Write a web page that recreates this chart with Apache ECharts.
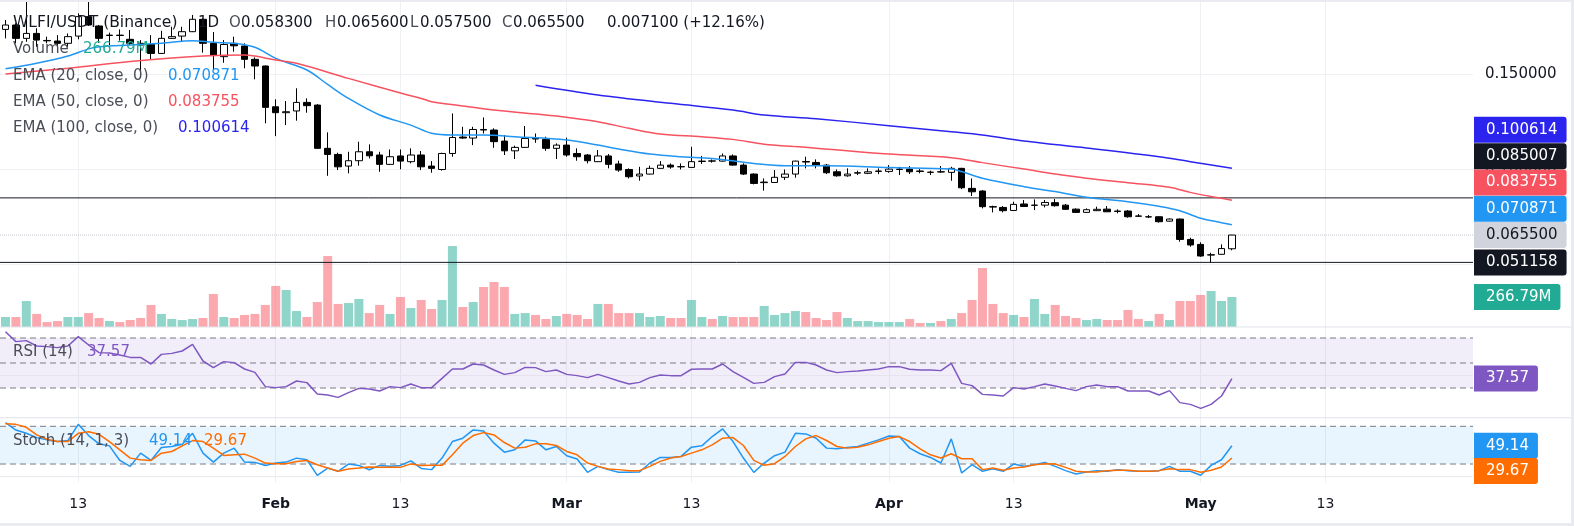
<!DOCTYPE html>
<html><head><meta charset="utf-8">
<script src="https://cdn.jsdelivr.net/npm/echarts@6/dist/echarts.min.js"></script>
<style>html,body{margin:0;padding:0;background:#fff}#c{width:1574px;height:526px}</style>
</head><body><div id="c"></div>
<script>
// ---------------- DATA (day index 0 = Jan 6) ----------------
const opens = [0.1734,0.1757,0.1687,0.1713,0.1676,0.1673,0.1661,0.1699,0.1801,0.1752,
0.1702,0.1704,0.1682,0.1661,0.1655,0.1608,0.1687,0.1699,0.1722,0.1787,
0.1661,0.1591,0.1661,0.1647,0.1577,0.1542,0.1328,0.1297,0.1306,0.1351,
0.1337,0.1110,0.1078,0.1017,0.1045,0.1092,0.1075,0.1026,0.1070,0.1040,
0.1075,0.1017,0.0999,0.1083,0.1169,0.1164,0.1209,0.1206,0.1148,0.1097,
0.1115,0.1164,0.1157,0.1110,0.1127,0.1083,0.1075,0.1040,0.1070,0.1028,
0.0999,0.0965,0.0975,0.1005,0.1022,0.1014,0.1010,0.1041,0.1044,0.1043,
0.1070,0.1022,0.0975,0.0930,0.0931,0.0958,0.0975,0.1041,0.1036,0.1022,
0.0987,0.0966,0.0980,0.0979,0.0989,0.0989,0.0999,0.1001,0.0991,0.0984,
0.0987,0.0984,0.1005,0.0900,0.0886,0.0804,0.0800,0.0784,0.0818,0.0811,
0.0812,0.0825,0.0812,0.0791,0.0774,0.0783,0.0791,0.0781,0.0781,0.0755,
0.0750,0.0751,0.0728,0.0739,0.0632,0.0606,0.0550,0.0554,0.0583];
const highs = [0.1783,0.1766,0.1895,0.1740,0.1696,0.1704,0.1713,0.1818,0.1900,0.1757,
0.1717,0.1734,0.1731,0.1678,0.1704,0.1727,0.1748,0.1748,0.1810,0.1792,
0.1720,0.1678,0.1696,0.1661,0.1587,0.1545,0.1367,0.1358,0.1425,0.1372,
0.1342,0.1194,0.1087,0.1092,0.1145,0.1131,0.1092,0.1104,0.1104,0.1110,
0.1096,0.1043,0.1087,0.1293,0.1223,0.1223,0.1272,0.1215,0.1180,0.1124,
0.1227,0.1188,0.1171,0.1136,0.1166,0.1110,0.1080,0.1101,0.1080,0.1045,
0.1005,0.1013,0.1019,0.1043,0.1031,0.1031,0.1118,0.1070,0.1052,0.1083,
0.1078,0.1031,0.0979,0.0952,0.0996,0.0999,0.1045,0.1066,0.1052,0.1028,
0.0999,0.1005,0.0993,0.1005,0.1005,0.1022,0.1013,0.1017,0.1001,0.0993,
0.1017,0.1013,0.1008,0.0952,0.0891,0.0809,0.0807,0.0830,0.0839,0.0842,
0.0839,0.0844,0.0818,0.0795,0.0795,0.0804,0.0807,0.0790,0.0786,0.0765,
0.0760,0.0755,0.0742,0.0742,0.0641,0.0617,0.0562,0.0606,0.0656];
const lows = [0.1687,0.1661,0.1669,0.1643,0.1661,0.1643,0.1643,0.1682,0.1752,0.1664,
0.1652,0.1675,0.1652,0.1512,0.1577,0.1606,0.1685,0.1669,0.1720,0.1612,
0.1521,0.1559,0.1617,0.1530,0.1472,0.1241,0.1174,0.1232,0.1255,0.1297,
0.1108,0.0966,0.0996,0.0979,0.1019,0.1057,0.0987,0.1024,0.1000,0.1031,
0.0996,0.0982,0.0993,0.1066,0.1160,0.1127,0.1188,0.1113,0.1075,0.1054,
0.1113,0.1139,0.1097,0.1054,0.1066,0.1045,0.1031,0.1038,0.1005,0.0987,
0.0952,0.0940,0.0973,0.1003,0.1003,0.0999,0.1008,0.1028,0.1035,0.1040,
0.1019,0.0970,0.0921,0.0888,0.0930,0.0944,0.0956,0.1005,0.1005,0.0975,
0.0961,0.0961,0.0970,0.0975,0.0975,0.0982,0.0970,0.0975,0.0979,0.0970,
0.0982,0.0940,0.0896,0.0860,0.0795,0.0774,0.0774,0.0783,0.0802,0.0786,
0.0800,0.0804,0.0788,0.0772,0.0772,0.0781,0.0776,0.0769,0.0746,0.0751,
0.0744,0.0720,0.0725,0.0620,0.0594,0.0541,0.0512,0.0552,0.0575];
const closes = [0.1757,0.1687,0.1713,0.1678,0.1674,0.1661,0.1696,0.1801,0.1757,0.1687,
0.1704,0.1702,0.1661,0.1652,0.1608,0.1687,0.1696,0.1722,0.1787,0.1661,
0.1599,0.1655,0.1648,0.1577,0.1542,0.1325,0.1297,0.1302,0.1351,0.1334,
0.1110,0.1078,0.1013,0.1045,0.1092,0.1071,0.1026,0.1066,0.1043,0.1075,
0.1013,0.1005,0.1083,0.1167,0.1164,0.1209,0.1206,0.1145,0.1097,0.1115,
0.1162,0.1159,0.1110,0.1127,0.1075,0.1066,0.1045,0.1070,0.1026,0.0996,
0.0961,0.0975,0.1005,0.1022,0.1012,0.1013,0.1040,0.1043,0.1043,0.1070,
0.1022,0.0975,0.0926,0.0933,0.0958,0.0975,0.1043,0.1038,0.1022,0.0982,
0.0966,0.0975,0.0982,0.0987,0.0991,0.1001,0.1001,0.0987,0.0989,0.0985,
0.0986,0.1005,0.0903,0.0882,0.0804,0.0802,0.0783,0.0816,0.0805,0.0812,
0.0826,0.0809,0.0790,0.0774,0.0788,0.0790,0.0777,0.0779,0.0751,0.0754,
0.0751,0.0725,0.0739,0.0632,0.0603,0.0545,0.0552,0.0584,0.0655];
const volumes = [89,89,231,116,44,53,89,89,124,80,
53,44,62,80,196,116,71,62,71,80,
293,89,80,107,116,196,365,329,142,89,
222,631,205,213,249,124,196,116,267,169,
240,160,240,720,178,222,356,400,356,116,
124,107,71,98,116,107,71,205,205,124,
124,124,89,98,80,80,240,89,71,98,
89,89,89,187,107,124,142,133,80,62,
133,80,53,53,44,44,44,71,36,36,
53,71,124,240,525,205,124,107,89,249,
116,196,98,80,62,71,62,62,151,71,
53,116,62,231,231,285,320,231,266.79];
// EMA readings: [dayIndex, value]
const ema20 = [[0,0.1527],[3,0.1556],[6,0.1594],[8,0.1632],[9,0.1643],[12,0.1652],[15,0.1661],[18,0.1675],[20,0.1666],[22,0.1661],[24,0.1640],[26,0.1582],[29,0.1521],[31,0.1445],[33,0.1372],[36,0.1285],[39,0.1232],[41,0.1189],[43,0.1180],[46,0.1180],[49,0.1171],[54,0.1154],[57,0.1127],[59,0.1106],[62,0.1080],[65,0.1066],[68,0.1057],[72,0.1031],[75,0.1019],[79,0.1019],[85,0.1009],[91,0.1001],[92,0.0988],[94,0.0953],[98,0.0909],[101,0.0883],[104,0.0853],[108,0.0830],[111,0.0806],[113,0.0783],[115,0.0743],[117,0.0720],[118,0.0709]];
const ema50 = [[0,0.1500],[6,0.1530],[12,0.1565],[19,0.1594],[23,0.1600],[24,0.1594],[26,0.1573],[28,0.1556],[33,0.1477],[38,0.1400],[40,0.1372],[41,0.1355],[44,0.1332],[47,0.1311],[51,0.1290],[54,0.1273],[57,0.1250],[60,0.1215],[63,0.1185],[67,0.1171],[70,0.1157],[73,0.1131],[76,0.1119],[78,0.1111],[85,0.1080],[91,0.1061],[94,0.1035],[98,0.1001],[101,0.0975],[104,0.0953],[108,0.0930],[112,0.0906],[114,0.0879],[116,0.0857],[118,0.0838]];
const ema100 = [[51,0.1441],[57,0.1390],[64,0.1346],[70,0.1311],[73,0.1285],[78,0.1265],[85,0.1229],[91,0.1197],[94,0.1180],[98,0.1149],[104,0.1112],[111,0.1066],[114,0.1040],[118,0.1006]];
const rsi = [75,67.1,67.9,63.6,63.1,62.3,63.6,71.1,64.4,58.3,
58,56.4,54.5,54.5,49.2,56.9,57.7,59.6,64.9,51.6,
46.3,51.1,50.3,45.2,42.5,31.1,30.3,31.1,35.6,34.3,
25.2,24.4,22.5,26.3,29.7,29.2,27.6,31.1,30.3,33.2,
30.3,30.3,37.7,45.2,45.2,49.2,48.4,44.4,40.9,42.3,
46.5,46.3,43.1,44.4,40.9,39.9,38.3,40.9,38.3,35.6,
33.2,34.5,38.3,40.4,39.9,39.9,45,45.2,45.2,49.2,
43.1,38.5,33.7,34.5,39.1,41.2,50.5,50.5,48.4,44.4,
42.3,43.1,43.6,44.4,45.2,47.1,47.1,45,44.4,44.4,
43.9,49.7,33.7,31.9,24.9,24.4,23.6,30.3,29.2,31.1,
33.2,31.6,29.7,27.9,31.1,32.4,31.1,31.1,27.6,27.6,
27.6,24.4,27.9,18.3,16.9,13.7,16.9,23.6,37.57];
const stochK = [86,74.1,68.9,62,58.4,55.7,57.3,83.1,65.2,52.1,
48.9,25.7,16.3,37.3,25.7,46.3,47.8,51.5,68.9,37.3,
23.1,37.3,45.2,23.1,22.6,17.8,21.5,23.1,29.4,26.8,
2.0,13.6,8.4,19.9,17.8,11,17.8,16.3,17.8,25,
13,11.1,29.5,55.8,61.1,74.2,72.6,53.2,38.9,42.6,
58.4,56.8,42.6,47.9,33.2,27.9,6.8,16.3,11.1,6.8,
6.8,7.4,21.6,30.5,30.5,32.1,46.8,48.9,63.7,75.8,
55.8,29.5,6.8,21.6,33.2,38.9,68.9,67.9,61.1,45.3,
44.2,46.3,47.9,53.2,58.4,64.7,63.7,45.3,36.3,30.5,
21.6,60,5.8,18.9,8.4,12.6,8.4,20,16.3,18.9,
22.6,16.3,9.5,4.2,7.4,9.5,8.4,11.1,9.5,8.4,
8.4,9.5,16.3,8.4,8.4,2.1,17.9,26.8,49.14];
const stochD = [84.2,83.1,78.4,66.3,59.4,55.7,55.7,68.9,71.5,67.3,
55.7,42.6,29.4,26.8,25.7,37.3,39.9,48.9,57.3,55.7,
45.2,33.6,34.7,35.7,29.4,21.5,20.5,20.5,24.1,25.7,
18.9,13.6,8.4,12.1,13.6,15.2,14.7,14.7,14.7,20.2,
17.6,17.9,17.9,34.7,53.2,65.3,70,66.3,54.2,45.3,
46.8,52.1,52.1,49.5,40,34.7,21.6,16.3,12.1,11.1,
9.5,9.5,16.3,24.2,29.5,32.1,37.4,42.6,50.5,61.1,
62.1,49.5,25.8,17.9,20.5,32.1,47.9,60,65.3,57.4,
47.9,45.3,46.8,50.5,55.8,61.1,63.7,55.8,44.2,34.7,
29.5,36.3,28.4,28.4,11.1,13.7,10,13.7,15.3,18.9,
20.5,20,14.7,8.4,7.4,7.4,9.5,10,10,8.4,
8.4,9.5,12.6,11.1,11.1,6.8,10,15.3,29.67];
const tickDays = [7, 26, 38, 54, 66, 85, 97, 115, 127];
const tickLabels = ['13','Feb','13','Mar','13','Apr','13','May','13'];
const hLines = [0.085007, 0.051158];
const readout = {open:'0.058300', high:'0.065600', low:'0.057500', close:'0.065500', change:'0.007100 (+12.16%)',
  vol:'266.79M', ema20:'0.070871', ema50:'0.083755', ema100:'0.100614', rsi:'37.57', k:'49.14', d:'29.67'};
const lastVals = {close:0.0655, ema20:0.070871, ema50:0.083755, ema100:0.100614, vol:266.79, rsi:37.57, k:49.14, d:29.67};

// ---------------- STYLE / LAYOUT ----------------
const FONT = '"DejaVu Sans", sans-serif';
const PLOT_W = 1473;
const XMIN = -0.53, XMAX = 141.2;
const C20 = '#2196f3', C50 = '#f7525f', C100 = '#2b24ee', CRSI = '#7e57c2', CK = '#2196f3', CD = '#ff6d00';
const GRIDC = '#eef0f4';
const DASH = {color:'#787b86', width:1, type:[6,4]};
const nice = v => Math.abs(v/0.05 - Math.round(v/0.05)) < 1e-6;

const chart = echarts.init(document.getElementById('c'), null, {renderer:'canvas'});

const candleData = opens.map((o,i)=>[i, o, closes[i], lows[i], highs[i]]);
const volData = volumes.map((v,i)=>({value:[i,v], itemStyle:{color: closes[i]>=opens[i] ? 'rgba(34,171,148,0.5)' : 'rgba(247,82,95,0.5)'}}));
const idx = arr => arr.map((v,i)=>[i,v]);
const level = v => [[XMIN, v], [XMAX, v]];

const xAxes = [0,1,2,3].map(k => ({
  type:'value', gridIndex:k, min:XMIN, max:XMAX,
  axisLine:{show:false},
  axisTick:{show:false, customValues:tickDays},
  splitLine:{show:k!==1, lineStyle:{color:GRIDC, width:1}},
  axisLabel: k===3 ? {
    show:true, customValues:tickDays, margin:15,
    formatter: v => { const t = tickLabels[tickDays.indexOf(Math.round(v))] || ''; return /^\d+$/.test(t) ? '{n|'+t+'}' : '{b|'+t+'}'; },
    rich:{n:{fontSize:14, color:'#131722', fontFamily:FONT}, b:{fontSize:14, fontWeight:'bold', color:'#131722', fontFamily:FONT}}
  } : {show:false}
}));

const noLbl = {show:false};
const hline = (ax, v, style, z) => ({type:'line', xAxisIndex:ax, yAxisIndex:ax, data:level(v), showSymbol:false, silent:true, lineStyle:style, z:z||2});
const option = {
  animation:false,
  backgroundColor:'#ffffff',
  textStyle:{fontFamily:FONT},
  grid:[
    {left:0, top:0, width:PLOT_W, height:327, outerBoundsMode:'none'},
    {left:0, top:227, width:PLOT_W, height:100, outerBoundsMode:'none'},
    {left:0, top:327, width:PLOT_W, height:90.7, outerBoundsMode:'none'},
    {left:0, top:417.7, width:PLOT_W, height:65, outerBoundsMode:'none'}
  ],
  xAxis:xAxes,
  yAxis:[
    {type:'value', gridIndex:0, position:'right', min:0.01726, max:0.18883, splitNumber:3,
      axisLine:{show:false}, axisTick:{show:false},
      splitLine:{show:true, showMinLine:false, showMaxLine:false, lineStyle:{color:GRIDC}},
      axisLabel:{margin:12, fontSize:15, color:'#131722', fontFamily:FONT, formatter:v => nice(v) ? v.toFixed(6) : ''}},
    {type:'value', gridIndex:1, min:0, max:889.3, show:false},
    {type:'value', gridIndex:2, min:6.24, max:78.8, show:false},
    {type:'value', gridIndex:3, min:-9.7, max:93.7, show:false}
  ],
  series:[
    {type:'bar', name:'Volume', xAxisIndex:1, yAxisIndex:1, barWidth:9, data:volData, z:1},
    hline(0, hLines[0], {color:'#131722', width:1}, 2),
    hline(0, hLines[1], {color:'#131722', width:1}, 2),
    hline(0, lastVals.close, {color:'#c3c6ce', width:1, type:'dotted'}, 2),
    {type:'candlestick', name:'WLFI', xAxisIndex:0, yAxisIndex:0, barWidth:7, encode:{x:0, y:[1,2,3,4]},
      data:candleData, z:3,
      itemStyle:{color:'#ffffff', color0:'#000000', borderColor:'#000000', borderColor0:'#000000', borderWidth:1}},
    {type:'line', name:'EMA20', xAxisIndex:0, yAxisIndex:0, data:ema20, showSymbol:false, smooth:0.35, lineStyle:{color:C20, width:1.5}, z:4},
    {type:'line', name:'EMA50', xAxisIndex:0, yAxisIndex:0, data:ema50, showSymbol:false, smooth:0.35, lineStyle:{color:C50, width:1.5}, z:4},
    {type:'line', name:'EMA100', xAxisIndex:0, yAxisIndex:0, data:ema100, showSymbol:false, smooth:0.35, lineStyle:{color:C100, width:1.5}, z:4},
    hline(2, 70, DASH, 3), hline(2, 50, DASH, 3), hline(2, 30, DASH, 3),
    hline(2, 40, {color:'#e6e3ef', width:1}, 2),
    {type:'line', name:'RSI', xAxisIndex:2, yAxisIndex:2, data:idx(rsi), showSymbol:false, lineStyle:{color:CRSI, width:1.5}, z:4,
      markArea:{silent:true, itemStyle:{color:'rgba(126,87,194,0.1)'}, data:[[{yAxis:30},{yAxis:70}]]}},
    hline(3, 80, DASH, 3), hline(3, 20, DASH, 3),
    hline(3, 0, {color:'#e6e8ee', width:1}, 2),
    {type:'line', name:'%K', xAxisIndex:3, yAxisIndex:3, data:idx(stochK), showSymbol:false, lineStyle:{color:CK, width:1.5}, z:4,
      markArea:{silent:true, itemStyle:{color:'rgba(33,150,243,0.1)'}, data:[[{yAxis:20},{yAxis:80}]]}},
    {type:'line', name:'%D', xAxisIndex:3, yAxisIndex:3, data:idx(stochD), showSymbol:false, lineStyle:{color:CD, width:1.5}, z:5}
  ]
};
chart.setOption(option);

// ---------------- OVERLAYS (legend text, value tags, separators) ----------------
const G = [];
function txt(x, y, text, color, opt) {
  opt = opt || {};
  G.push({type:'text', z:100, x:x, y:y, silent:true,
    style:{text:text, fill:color, font:(opt.bold?'bold ':'')+(opt.size||15)+'px '+FONT, align:'left', verticalAlign:'middle'}});
}
const TXT = '#131722', LBL = '#4a4d57';
txt(13, 23, 'WLFI/USDT (Binance)', TXT, {size:15.5}); txt(198, 23, '1D', TXT);
txt(229, 23, 'O', LBL); txt(241, 23, readout.open, TXT);
txt(325, 23, 'H', LBL); txt(337, 23, readout.high, TXT);
txt(410, 23, 'L', LBL); txt(420, 23, readout.low, TXT);
txt(502, 23, 'C', LBL); txt(513, 23, readout.close, TXT);
txt(607, 23, readout.change, TXT);
txt(13, 49, 'Volume', LBL); txt(83, 49, readout.vol, '#22ab94');
txt(13, 76, 'EMA (20, close, 0)', LBL); txt(168, 76, readout.ema20, C20);
txt(13, 102, 'EMA (50, close, 0)', LBL); txt(168, 102, readout.ema50, C50);
txt(13, 128, 'EMA (100, close, 0)', LBL); txt(178, 128, readout.ema100, C100);
txt(13, 352, 'RSI (14)', LBL); txt(87, 352, readout.rsi, CRSI);
txt(13, 441, 'Stoch (14, 1, 3)', LBL); txt(149, 441, readout.k, CK); txt(204, 441, readout.d, CD);

const TAG_H = 26.3;
function tag(y, text, bg, fg) {
  G.push({type:'text', z:110, x:1474, y:y, silent:true,
    style:{text:text, fill:fg, font:'15px '+FONT, align:'left', verticalAlign:'middle',
      backgroundColor:bg, padding:[0,9,0,12], lineHeight:26, borderRadius:[0,3,3,0]}});
}
const py = (axis, v) => chart.convertToPixel({yAxisIndex:axis}, v);
const ptags = [
  {v:lastVals.ema100, t:readout.ema100, bg:C100, fg:'#fff'},
  {v:hLines[0], t:hLines[0].toFixed(6), bg:'#131722', fg:'#fff'},
  {v:lastVals.ema50, t:readout.ema50, bg:C50, fg:'#fff'},
  {v:lastVals.ema20, t:readout.ema20, bg:C20, fg:'#fff'},
  {v:lastVals.close, t:readout.close, bg:'#d1d4dc', fg:'#131722'},
  {v:hLines[1], t:hLines[1].toFixed(6), bg:'#131722', fg:'#fff'}
];
ptags.forEach(p => p.y = py(0, p.v));
ptags.sort((a,b)=>b.y-a.y);
let prev = Infinity;
ptags.forEach(p => { p.ty = Math.min(p.y, prev - TAG_H); prev = p.ty; tag(p.ty, p.t, p.bg, p.fg); });
tag(py(1, lastVals.vol), readout.vol, '#22ab94', '#fff');
tag(py(2, lastVals.rsi), readout.rsi, CRSI, '#fff');
const stags = [{v:lastVals.k, t:readout.k, bg:CK}, {v:lastVals.d, t:readout.d, bg:CD}];
stags.forEach(s => s.y = py(3, s.v));
stags.sort((a,b)=>a.y-b.y);
prev = -Infinity;
stags.forEach(s => { s.ty = Math.max(s.y, prev + 25.4); prev = s.ty; tag(s.ty, s.t, s.bg, '#fff'); });

// pane separators and frame
G.push({type:'rect', z:90, silent:true, shape:{x:0, y:326.5, width:1574, height:1}, style:{fill:'#e0e3eb'}});
G.push({type:'rect', z:90, silent:true, shape:{x:0, y:417.2, width:1574, height:1}, style:{fill:'#e0e3eb'}});
G.push({type:'rect', z:120, silent:true, shape:{x:0, y:0, width:1574, height:2}, style:{fill:'#e9ebf0'}});
G.push({type:'rect', z:120, silent:true, shape:{x:1571, y:0, width:3, height:526}, style:{fill:'#e9ebf0'}});
G.push({type:'rect', z:120, silent:true, shape:{x:0, y:523, width:1574, height:3}, style:{fill:'#e9ebf0'}});
chart.setOption({graphic:G});
</script>
</body></html>
